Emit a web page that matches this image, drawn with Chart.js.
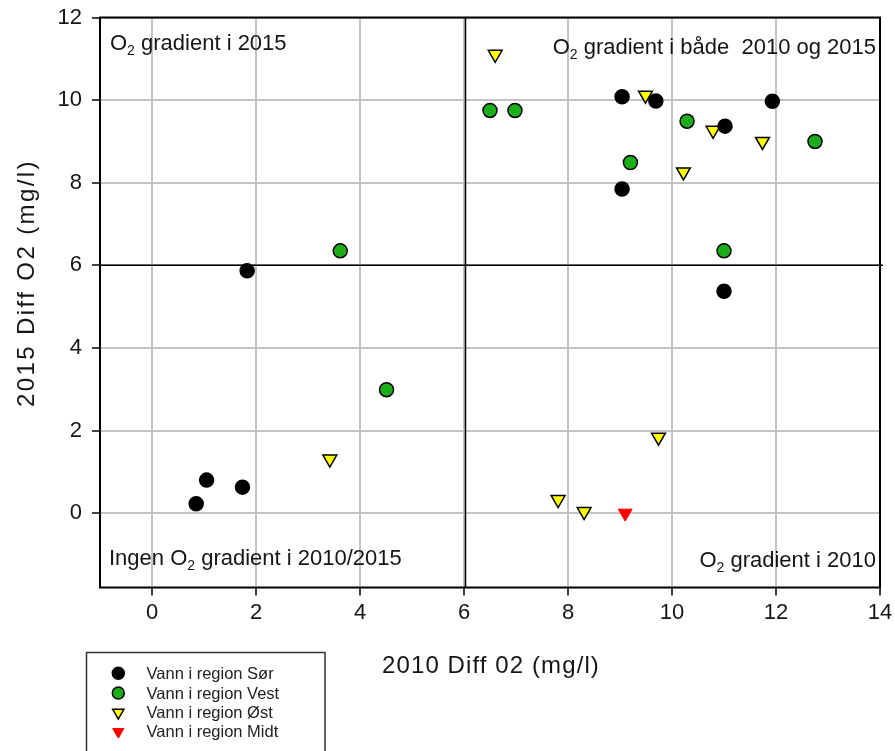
<!DOCTYPE html>
<html><head><meta charset="utf-8">
<script src="https://cdn.jsdelivr.net/npm/chart.js@4/dist/chart.umd.min.js"></script>
<style>html,body{margin:0;padding:0;background:#fff;}canvas{display:block;}</style>
</head><body>
<canvas id="c" width="895" height="751"></canvas>
<script>
// ---- data ----
const seriesNames = ['Vann i region Sør', 'Vann i region Vest', 'Vann i region Øst', 'Vann i region Midt'];
const sorX  = [0.85, 1.05, 1.74, 1.83, 9.04, 9.04, 9.69, 11.02, 11.93, 11.00];
const sorY  = [0.23, 0.80, 0.63, 5.87, 7.85, 10.08, 9.98, 9.37, 9.97, 5.37];
const vestX = [4.51, 3.62, 6.50, 6.98, 9.20, 10.29, 11.00, 12.75];
const vestY = [2.99, 6.35, 9.75, 9.75, 8.49, 9.49, 6.35, 9.00];
const ostX  = [6.60, 9.49, 10.79, 11.74, 10.22, 3.42, 9.74, 7.81, 8.31];
const ostY  = [11.11, 10.12, 9.27, 9.00, 8.26, 1.31, 1.84, 0.33, 0.04];
const midtX = [9.10];
const midtY = [0.00];
const xTicks = [0, 2, 4, 6, 8, 10, 12, 14];
const yTicks = [0, 2, 4, 6, 8, 10, 12];
const refX = 6, refY = 6;
const xTitle = '2010 Diff 02 (mg/l)';
const yTitle = '2015 Diff O2 (mg/l)';
const qTopLeft = ['', ' gradient i 2015'];
const qTopRight = ['', ' gradient i både  2010 og 2015'];
const qBottomLeft = ['Ingen ', ' gradient i 2010/2015'];
const qBottomRight = ['', ' gradient i 2010'];

const FAM = '"Liberation Sans", Arial, Helvetica, sans-serif';
const pts = (xs, ys) => xs.map((v, i) => ({x: v, y: ys[i]}));

const styles = [
  {pointStyle: 'circle', radius: 7, rotation: 0, bg: '#000000', border: '#000000', bw: 1.5, lr: 6},
  {pointStyle: 'circle', radius: 7, rotation: 0, bg: '#1aae1a', border: '#000000', bw: 1.5, lr: 6},
  {pointStyle: 'triangle', radius: 8, rotation: 180, bg: '#ffff00', border: '#000000', bw: 1.5, lr: 6.5},
  {pointStyle: 'triangle', radius: 8, rotation: 180, bg: '#ff0000', border: '#ff0000', bw: 1, lr: 6.5}
];
const seriesData = [pts(sorX, sorY), pts(vestX, vestY), pts(ostX, ostY), pts(midtX, midtY)];

function drawMarker(ctx, st, x, y, r) {
  ctx.save();
  ctx.fillStyle = st.bg; ctx.strokeStyle = st.border; ctx.lineWidth = st.bw;
  ctx.beginPath();
  if (st.pointStyle === 'circle') {
    ctx.arc(x, y, r, 0, Math.PI * 2);
  } else {
    let rad = st.rotation * Math.PI / 180;
    for (let k = 0; k < 3; k++) {
      const px = x + Math.sin(rad) * r, py = y - Math.cos(rad) * r;
      if (k === 0) ctx.moveTo(px, py); else ctx.lineTo(px, py);
      rad += 2 * Math.PI / 3;
    }
    ctx.closePath();
  }
  ctx.fill(); ctx.stroke();
  ctx.restore();
}

function drawO2(ctx, parts, x, base, align) {
  const main = '22px ' + FAM, sub = '14px ' + FAM;
  ctx.font = main; const w1 = ctx.measureText(parts[0]).width; const wO = ctx.measureText('O').width;
  ctx.font = sub; const w2 = ctx.measureText('2').width;
  ctx.font = main; const w3 = ctx.measureText(parts[1]).width;
  const total = w1 + wO + w2 + w3;
  let sx = align === 'left' ? x : x - total;
  ctx.textAlign = 'left'; ctx.textBaseline = 'alphabetic';
  ctx.font = main; ctx.fillText(parts[0] + 'O', sx, base);
  sx += w1 + wO;
  ctx.font = sub; ctx.fillText('2', sx, base + 5);
  sx += w2;
  ctx.font = main; ctx.fillText(parts[1], sx, base);
}

const overlay = {
  id: 'overlay',
  beforeDatasetsDraw(chart) {
    const {ctx, chartArea: a, scales: {x, y}} = chart;
    ctx.save();
    ctx.strokeStyle = '#000'; ctx.lineWidth = 1.5;
    const px = x.getPixelForValue(refX), py = y.getPixelForValue(refY);
    ctx.beginPath();
    ctx.moveTo(px + 1.5, a.top); ctx.lineTo(px + 1.5, a.bottom);
    ctx.moveTo(a.left, py); ctx.lineTo(a.right + 3, py);
    ctx.stroke();
    ctx.lineWidth = 2;
    ctx.strokeRect(a.left, a.top, a.right - a.left, a.bottom - a.top);
    ctx.fillStyle = '#151515';
    drawO2(ctx, qTopLeft, a.left + 10, a.top + 32.5, 'left');
    drawO2(ctx, qTopRight, a.right - 4, a.top + 36, 'right');
    drawO2(ctx, qBottomLeft, a.left + 9, a.bottom - 22.5, 'left');
    drawO2(ctx, qBottomRight, a.right - 4, a.bottom - 21, 'right');
    ctx.restore();
  },
  afterDraw(chart) {
    const {ctx, chartArea: a} = chart;
    ctx.save();
    ctx.fillStyle = '#151515';
    // axis titles
    ctx.font = '24px ' + FAM;
    ctx.textAlign = 'center'; ctx.textBaseline = 'middle';
    ctx.letterSpacing = '1.1px';
    ctx.fillText(xTitle, (a.left + a.right) / 2 + 1, 666);
    ctx.save();
    ctx.translate(27.5, 283);
    ctx.rotate(-Math.PI / 2);
    ctx.letterSpacing = '2.4px';
    ctx.fillText(yTitle, 0, 0);
    ctx.restore();
    ctx.letterSpacing = '0px';
    // legend
    ctx.strokeStyle = '#333'; ctx.lineWidth = 1.5;
    ctx.strokeRect(86.5, 652.5, 238.5, 130);
    const ys = [673.3, 693, 712.5, 731.7];
    ctx.font = '16.5px ' + FAM; ctx.textAlign = 'left'; ctx.textBaseline = 'middle';
    chart.data.datasets.forEach((ds, i) => {
      drawMarker(ctx, styles[i], 118.3, ys[i], styles[i].lr);
      ctx.fillStyle = '#222';
      ctx.fillText(ds.label, 146.5, ys[i] + 1);
    });
    ctx.restore();
  }
};

const zeroPad = s => { s.paddingTop = 0; s.paddingBottom = 0; s.paddingLeft = 0; s.paddingRight = 0; };
const tickFont = {family: FAM, size: 22};
new Chart(document.getElementById('c'), {
  type: 'scatter',
  data: {
    datasets: seriesData.map((d, i) => ({
      label: seriesNames[i], data: d,
      pointStyle: styles[i].pointStyle, rotation: styles[i].rotation,
      pointRadius: styles[i].radius, pointHoverRadius: styles[i].radius,
      backgroundColor: styles[i].bg, borderColor: styles[i].border, borderWidth: styles[i].bw
    }))
  },
  options: {
    responsive: false, animation: false,
    layout: {padding: {top: 17.5, right: 15, left: 0, bottom: 0}},
    plugins: {legend: {display: false}, tooltip: {enabled: false}},
    scales: {
      x: {
        type: 'linear', min: -1, max: 14,
        afterBuildTicks: s => { s.ticks = xTicks.map(v => ({value: v})); },
        afterFit: s => { s.height = 163.5; zeroPad(s); },
        grid: {color: '#c4c4c4', lineWidth: 2, tickColor: '#000', tickLength: 8, tickWidth: 1.5},
        border: {display: false},
        ticks: {font: tickFont, color: '#151515', padding: 4, maxRotation: 0, autoSkip: false}
      },
      y: {
        type: 'linear', min: -1.8, max: 12,
        afterBuildTicks: s => { s.ticks = yTicks.map(v => ({value: v})); },
        afterFit: s => { s.width = 100; zeroPad(s); },
        grid: {color: '#c4c4c4', lineWidth: 2, tickColor: '#000', tickLength: 8, tickWidth: 1.5},
        border: {display: false},
        ticks: {font: tickFont, color: '#151515', padding: 10, autoSkip: false}
      }
    }
  },
  plugins: [overlay]
});
</script>
</body></html>
